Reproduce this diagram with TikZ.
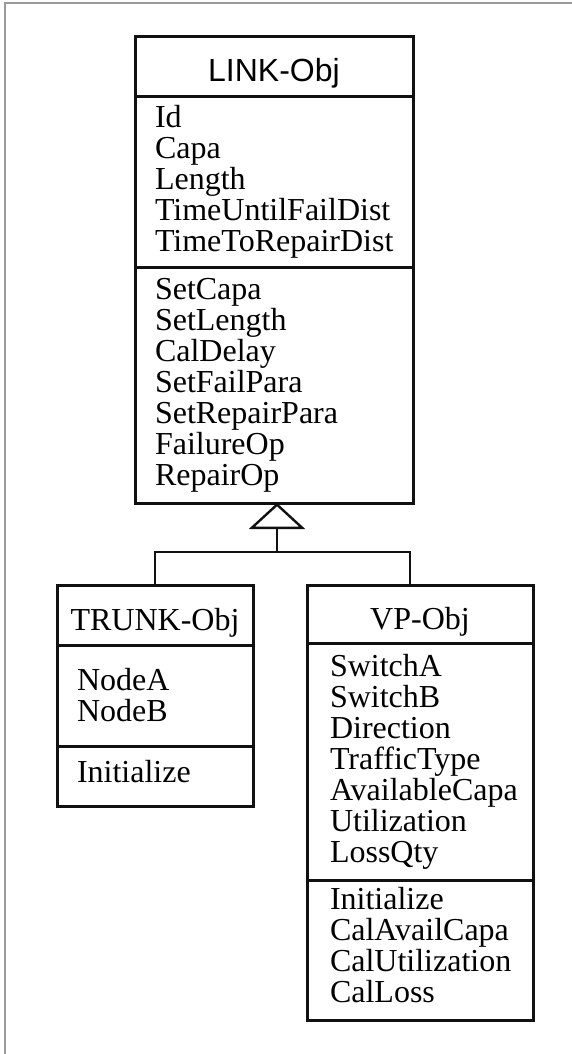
\documentclass[tikz,border=0pt]{standalone}
\usepackage{fontspec}
\setmainfont{Liberation Serif}
\newfontfamily\helv{Liberation Sans}
\usetikzlibrary{arrows.meta,positioning}
\definecolor{ink}{HTML}{111111}
\definecolor{scanedge}{HTML}{9A9A9A}

\begin{document}
\begin{tikzpicture}[
  x=0.5pt, y=-0.5pt,
  font=\fontsize{16}{15.5}\selectfont,
  title/.style={draw=ink,line width=1.5pt,inner sep=0pt,outer sep=0pt,
                minimum height=30pt,text height=15pt,text depth=0pt},
  fields/.style={draw=ink,line width=1.5pt,inner xsep=10pt,inner ysep=0pt,
                 outer sep=0pt,align=left},
  isa/.style={draw=ink,line width=1.2pt,-{Triangle[open,length=13pt,width=28pt]}},
  wire/.style={draw=ink,line width=1.2pt},
]
\useasboundingbox (0,0) rectangle (572,1054);

% scanned page edge
\draw[scanedge,line width=0.6pt] (5,1054) -- (5,3) -- (572,3);

% superclass
\node[title,minimum width=139pt,font=\helv\fontsize{16}{15.5}\selectfont]
  (linkhead) at (274,67) {LINK-Obj};
\node[fields,text width=119pt,minimum height=85pt,below=0pt of linkhead] (linkattr)
  {Id\\Capa\\Length\\TimeUntilFailDist\\TimeToRepairDist};
\node[fields,text width=119pt,minimum height=118pt,below=0pt of linkattr] (linkops)
  {SetCapa\\SetLength\\CalDelay\\SetFailPara\\SetRepairPara\\FailureOp\\RepairOp};

% subclasses
\node[title,minimum width=98pt] (trunkhead) at (155,615) {TRUNK-Obj};
\node[fields,text width=78pt,minimum height=50.5pt,below=0pt of trunkhead] (trunkattr)
  {NodeA\\NodeB};
\node[fields,text width=78pt,minimum height=30pt,below=0pt of trunkattr] (trunkops)
  {Initialize\strut};

\node[title,minimum width=113pt,minimum height=29pt] (vphead) at (420,614) {VP-Obj};
\node[fields,inner xsep=11.5pt,text width=90pt,minimum height=118.5pt,
      below=0pt of vphead] (vpattr)
  {SwitchA\\SwitchB\\Direction\\TrafficType\\AvailableCapa\\Utilization\\LossQty};
\node[fields,inner xsep=11.5pt,text width=90pt,minimum height=70pt,
      below=0pt of vpattr] (vpops)
  {Initialize\\CalAvailCapa\\CalUtilization\\CalLoss\strut};

% generalisation
\coordinate (fork) at (277,552);
\draw[isa] (fork) -- (fork |- linkops.south);
\draw[wire] (trunkhead.north) |- (fork) -| ([xshift=-5pt]vphead.north);

\end{tikzpicture}
\end{document}
